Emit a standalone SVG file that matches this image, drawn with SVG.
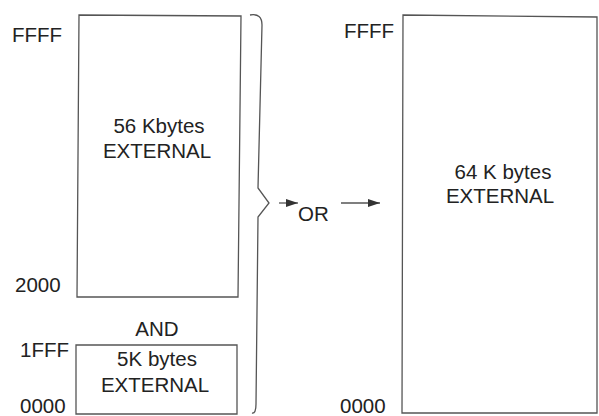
<svg xmlns="http://www.w3.org/2000/svg" width="599" height="416" viewBox="0 0 599 416">
<defs>
<style>
text{font-family:"Liberation Sans",Arial,sans-serif;font-size:20.5px;fill:#222}
.c{text-anchor:middle}
.box{fill:none;stroke:#555;stroke-width:1.3}
.ln{fill:none;stroke:#555;stroke-width:1.3}
</style>
<marker id="ah" viewBox="0 0 12 8" refX="12" refY="4" markerWidth="12" markerHeight="8" markerUnits="userSpaceOnUse" orient="auto">
<path d="M0,0 L12,4 L0,8 Z" fill="#333"/>
</marker>
</defs>
<rect width="599" height="416" fill="#fff"/>
<g id="ext56">
<polygon class="box" points="79,15 241,16 238,297 77,297"/>
<text class="c" x="159" y="133">56 Kbytes</text>
<text class="c" x="157" y="158">EXTERNAL</text>
</g>
<g id="ext5">
<polygon class="box" points="76,345 237,345 237,414 76,414"/>
<text class="c" x="157" y="366">5K bytes</text>
<text class="c" x="155" y="392">EXTERNAL</text>
</g>
<g id="ext64">
<polygon class="box" points="403,15 597,17 597,413 402,413"/>
<text class="c" x="503" y="179">64 K bytes</text>
<text class="c" x="500" y="203">EXTERNAL</text>
</g>
<g id="labels">
<text x="12" y="42">FFFF</text>
<text x="15" y="292">2000</text>
<text class="c" x="157" y="336">AND</text>
<text x="20" y="357">1FFF</text>
<text x="20" y="413">0000</text>
<text x="344" y="38">FFFF</text>
<text x="340" y="413">0000</text>
<text x="298" y="221">OR</text>
</g>
<g id="connectors">
<path class="ln" d="M250,15 Q262,13 262,25 L258,188 L269,203 L258,217 L256,404 Q256,414 252,413"/>
<line class="ln" x1="279" y1="203" x2="298" y2="203" marker-end="url(#ah)"/>
<line class="ln" x1="341" y1="203" x2="380" y2="203" marker-end="url(#ah)"/>
</g>
</svg>
